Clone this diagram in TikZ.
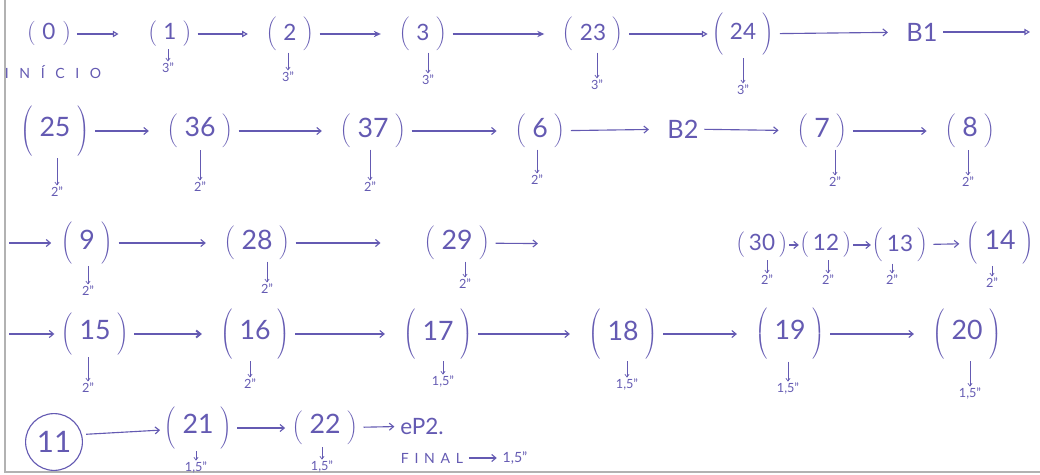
\documentclass[tikz,border=0pt]{standalone}
\usepackage{fontspec}
\setmainfont{Lato}
\usetikzlibrary{arrows.meta}
\definecolor{tinta}{RGB}{100,90,178}
% parenteses feitos a mao: altura em pt no argumento opcional
\newcommand{\etapa}[2][20]{$\left(\vrule height \dimexpr #1pt/2+4pt\relax depth \dimexpr #1pt/2-4pt\relax width 0pt\;\mbox{#2}\;\right)$}
\newcommand{\etapac}[2][18]{$\left(\vrule height \dimexpr #1pt/2+4pt\relax depth \dimexpr #1pt/2-4pt\relax width 0pt\,\mbox{#2}\,\right)$}

\begin{document}
\begin{tikzpicture}[
    x=0.025cm, y=-0.025cm,
    etapa/.style={text=tinta, font=\fontsize{19}{22}\selectfont, inner sep=1pt},
    etapap/.style={etapa, font=\fontsize{16}{19}\selectfont},
    bloco/.style={etapa, font=\fontsize{18}{21}\selectfont},
    circulo/.style={etapa, font=\fontsize{21}{24}\selectfont, draw=tinta, circle, line width=0.8pt, minimum size=1.42cm, inner sep=0pt},
    tempo/.style={text=tinta, font=\fontsize{9}{11}\selectfont, inner sep=1pt},
    rotulo/.style={tempo, font=\fontsize{10}{12}\selectfont},
    seta/.style={draw=tinta, line width=0.8pt, -{Straight Barb[length=3pt,width=5pt]}, shorten <=3pt, shorten >=12pt},
    setav/.style={seta, -{Triangle[open,length=4pt,width=4.5pt]}},
    setac/.style={seta, -{Stealth[length=5pt,width=4.5pt]}},
    desce/.style={draw=tinta, line width=0.5pt, -{Straight Barb[length=2pt,width=3pt]}},
    moldura/.style={draw=gray!60, line width=1.4pt}
]
\useasboundingbox (0,0) rectangle (1040,474);

% ============================================================
% MOLDURA
% ============================================================
\draw[moldura] (5,0) -- (5,472) -- (1040,472);

% ============================================================
% LINHA 1
% ============================================================
\node[etapap] (n0) at (49,34) {\etapa[17]{0}};
\node[rotulo] (inicio) at (53,72) {\makebox[2.4cm][s]{I N Í C I O}};
\node[etapap] (n1) at (170,34) {\etapa[19]{1}};
\node[etapap] (n2) at (290,34) {\etapa[20]{2}};
\node[etapap] (n3) at (423,34) {\etapa[21]{3}};
\node[etapap] (n23) at (593,34) {\etapa[20]{23}};
\node[etapap] (n24) at (743,34) {\etapa[32]{24}};
\node[bloco] (b1) at (922,32) {B1};
\coordinate (fim1) at (1030,32);

\node[tempo] (t1) at (168,68) {3"};
\node[tempo] (t2) at (288,77) {3"};
\node[tempo] (t3) at (428,80) {3"};
\node[tempo] (t23) at (597,85) {3"};
\node[tempo] (t24) at (743,90) {3"};

\draw[setav, shorten >=20pt] (n0) -- (n1);
\draw[setav] (n1) -- (n2);
\draw[setac] (n2) -- (n3);
\draw[setac] (n3) -- (n23);
\draw[setav, shorten >=2pt] (n23) -- (n24);
\draw[seta] (n24) -- (b1);
\draw[setav, shorten >=0pt] (b1) -- (fim1);

% ============================================================
% LINHA 2
% ============================================================
\node[etapa] (n25) at (55,131) {\etapa[36]{25}};
\node[etapa] (n36) at (200,131) {\etapa[25]{36}};
\node[etapa] (n37) at (373,131) {\etapa[22]{37}};
\node[etapa] (n6) at (540,131) {\etapa[21]{6}};
\node[bloco] (b2) at (683,129) {B2};
\node[etapa] (n7) at (822,131) {\etapa[21]{7}};
\node[etapa] (n8) at (970,131) {\etapa[25]{8}};

\node[tempo] (t25) at (57,192) {2"};
\node[tempo] (t36) at (200,187) {2"};
\node[tempo] (t37) at (370,187) {2"};
\node[tempo] (t6) at (537,180) {2"};
\node[tempo] (t7) at (835,182) {2"};
\node[tempo] (t8) at (968,182) {2"};

\draw[seta] (n25) -- (n36);
\draw[seta] (n36) -- (n37);
\draw[seta] (n37) -- (n6);
\draw[seta] (n6) -- (b2);
\draw[seta] (b2) -- (n7);
\draw[seta] (n7) -- (n8);

% ============================================================
% LINHA 3
% ============================================================
\coordinate (ini3) at (5,243);
\node[etapa] (n9) at (87,243) {\etapa[29]{9}};
\node[etapa] (n28) at (257,243) {\etapa[22]{28}};
\node[etapa] (n29) at (457,243) {\etapa[23]{29}};
\node[etapap] (n30) at (762,245) {\etapac[19]{30}};
\node[etapap] (n12) at (826,245) {\etapac[19]{12}};
\node[etapap] (n13) at (900,245) {\etapac[20]{13}};
\node[etapa] (n14) at (1000,243) {\etapa[28]{14}};

\node[tempo] (t9) at (88,291) {2"};
\node[tempo] (t28) at (267,289) {2"};
\node[tempo] (t29) at (465,284) {2"};
\node[tempo] (t30) at (767,280) {2"};
\node[tempo] (t12) at (828,280) {2"};
\node[tempo] (t13) at (892,280) {2"};
\node[tempo] (t14) at (992,283) {2"};

\draw[seta, shorten >=6pt] (ini3) -- (n9);
\draw[seta] (n9) -- (n28);
\draw[seta, shorten >=30pt] (n28) -- (n29);
\draw[seta, shorten >=140pt] (n29) -- (n30);
\draw[seta, shorten <=0pt, shorten >=0pt] (n30) -- (n12);
\draw[seta, shorten <=0pt, shorten >=0pt] (n12) -- (n13);
\draw[seta, shorten >=4pt] (n13) -- (n14);

% ============================================================
% LINHA 4
% ============================================================
\coordinate (ini4) at (5,334);
\node[etapa] (n15) at (95,334) {\etapa[30]{15}};
\node[etapa] (n16) at (255,334) {\etapa[36]{16}};
\node[etapa] (n17) at (438,334) {\etapa[33]{17}};
\node[etapa] (n18) at (623,334) {\etapa[33]{18}};
\node[etapa] (n19) at (790,334) {\etapa[37]{19}};
\node[etapa] (n20) at (967,334) {\etapa[36]{20}};

\node[tempo] (t15) at (88,388) {2"};
\node[tempo] (t16) at (250,384) {2"};
\node[tempo] (t17) at (443,382) {1,5"};
\node[tempo] (t18) at (627,385) {1,5"};
\node[tempo] (t19) at (788,389) {1,5"};
\node[tempo] (t20) at (970,394) {1,5"};

\draw[seta, shorten >=4pt] (ini4) -- (n15);
\draw[seta, line width=1.4pt] (n15) -- (n16);
\draw[seta] (n16) -- (n17);
\draw[seta] (n17) -- (n18);
\draw[seta] (n18) -- (n19);
\draw[seta] (n19) -- (n20);

% ============================================================
% LINHA 5
% ============================================================
\node[circulo] (n11) at (54,442) {11};
\node[etapa] (n21) at (198,428) {\etapa[30]{21}};
\node[etapa] (n22) at (325,428) {\etapa[25]{22}};
\node[bloco, font=\fontsize{16}{19}\selectfont] (ep2) at (422,426) {eP2.};

\node[tempo] (t21) at (196,468) {1,5"};
\node[tempo] (t22) at (322,467) {1,5"};

\node[rotulo] (final) at (432,458) {\makebox[1.55cm][s]{F I N A L}};
\node[rotulo] (tfinal) at (515,458) {1,5"};

\draw[seta, shorten >=2pt] (n11.15) -- (n21);
\draw[seta, shorten >=4pt] (n21) -- (n22);
\draw[seta, shorten >=3pt] (n22) -- (ep2);
\draw[seta, shorten >=3pt] (final) -- (tfinal);

% ============================================================
% SETAS DE TEMPO
% ============================================================
\foreach \n in {1,2,3,23,24,25,36,37,6,7,8,9,28,29,30,12,13,14,15,16,17,18,19,20,21,22}
    \draw[desce] (t\n.north |- n\n.south) -- (t\n.north);

\end{tikzpicture}
\end{document}
